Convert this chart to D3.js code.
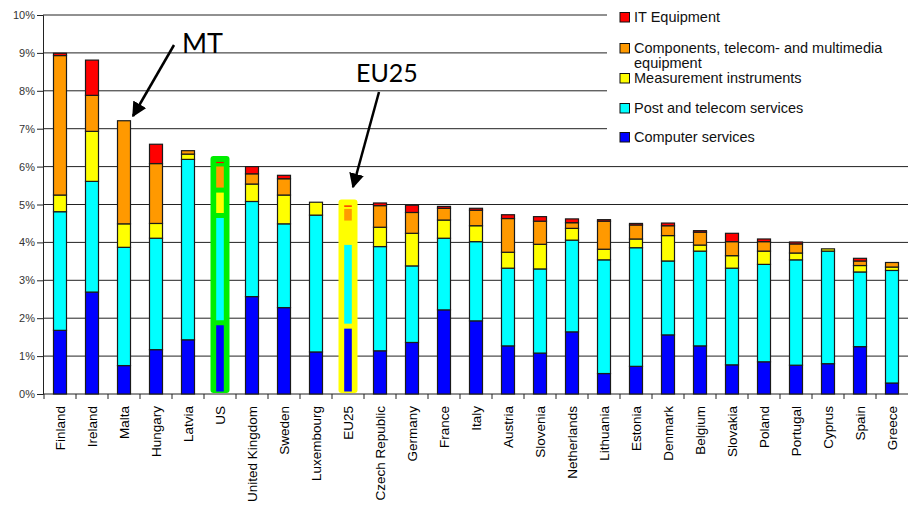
<!DOCTYPE html>
<html>
<head>
<meta charset="utf-8">
<title>ICT sector share</title>
<script src="https://cdn.jsdelivr.net/npm/d3@7"></script>
<style>
  body { margin: 0; background: #fff; }
  svg { display: block; }
  .ylab { font: 11px "Liberation Sans", Arial, sans-serif; fill: #333; }
  .xlab { font: 13.5px "Liberation Sans", Arial, sans-serif; fill: #000; }
  .leg { font: 14.5px "Liberation Sans", Arial, sans-serif; fill: #111; }
  .note { font-family: Lato, "Open Sans", sans-serif; fill: #000; }
</style>
</head>
<body>
<svg width="909" height="506"></svg>
<script>
// values in %
var categories = ["Finland", "Ireland", "Malta", "Hungary", "Latvia", "US", "United Kingdom", "Sweden",
  "Luxembourg", "EU25", "Czech Republic", "Germany", "France", "Italy", "Austria", "Slovenia",
  "Netherlands", "Lithuania", "Estonia", "Denmark", "Belgium", "Slovakia", "Poland", "Portugal",
  "Cyprus", "Spain", "Greece"];
var computerServices = [1.68, 2.69, 0.75, 1.17, 1.43, 1.88, 2.57, 2.28, 1.11, 1.79, 1.14, 1.36, 2.22, 1.93,
  1.27, 1.08, 1.64, 0.54, 0.73, 1.56, 1.27, 0.77, 0.85, 0.76, 0.80, 1.25, 0.29];
var postTelecom = [3.13, 2.92, 3.12, 2.94, 4.76, 2.83, 2.51, 2.21, 3.61, 2.21, 2.75, 2.02, 1.89, 2.09,
  2.05, 2.22, 2.42, 3.00, 3.13, 1.95, 2.50, 2.55, 2.57, 2.78, 2.97, 1.97, 2.97];
var measurement = [0.44, 1.32, 0.62, 0.39, 0.14, 0.67, 0.46, 0.76, 0.34, 0.51, 0.51, 0.86, 0.48, 0.42,
  0.42, 0.65, 0.31, 0.28, 0.23, 0.67, 0.16, 0.33, 0.35, 0.18, 0.06, 0.17, 0.09];
var components = [3.68, 0.95, 2.72, 1.58, 0.09, 0.69, 0.27, 0.43, 0, 0.44, 0.57, 0.55, 0.31, 0.41,
  0.89, 0.61, 0.15, 0.74, 0.37, 0.26, 0.34, 0.37, 0.25, 0.24, 0, 0.12, 0.12];
var itEquipment = [0.06, 0.93, 0, 0.51, 0, 0.08, 0.19, 0.09, 0, 0.05, 0.07, 0.19, 0.05, 0.05,
  0.10, 0.12, 0.10, 0.04, 0.04, 0.07, 0.04, 0.22, 0.07, 0.05, 0, 0.07, 0];
var seriesNames = ["Computer services", "Post and telecom services", "Measurement instruments",
  "Components, telecom- and multimedia equipment", "IT Equipment"];
var yTicks = [0, 1, 2, 3, 4, 5, 6, 7, 8, 9, 10];
var highlighted = ["US", "EU25"];

var colors = ["#0000ff", "#00ffff", "#ffff00", "#ff9900", "#ff0000"];
var hiColors = { "US": "#00ee00", "EU25": "#ffff00" };
var keys = ["s0", "s1", "s2", "s3", "s4"];

var rows = categories.map(function (c, i) {
  return { name: c, s0: computerServices[i], s1: postTelecom[i], s2: measurement[i],
           s3: components[i], s4: itEquipment[i] };
});
var stacked = d3.stack().keys(keys)(rows);

var svg = d3.select("svg");
var x = d3.scaleBand().domain(categories).range([44, 908]);
var y = d3.scaleLinear().domain([0, 10]).range([394, 15]);
var bw = 13;

// grid
svg.append("g").selectAll("line").data(yTicks.slice(1)).enter().append("line")
  .attr("x1", 43).attr("x2", 908)
  .attr("y1", function (d) { return y(d); }).attr("y2", function (d) { return y(d); })
  .attr("stroke", "#222").attr("stroke-width", 1);

// y axis
var ya = svg.append("g").attr("transform", "translate(43,0)")
  .call(d3.axisLeft(y).tickValues(yTicks).tickSize(6).tickPadding(2)
    .tickFormat(function (d) { return d + "%"; }));
ya.select(".domain").attr("stroke", "#222");
ya.selectAll(".tick line").attr("stroke", "#222");
ya.selectAll("text").attr("class", "ylab").attr("font-size", null).attr("font-family", null).attr("fill", null);

// x axis: tick marks at band edges, rotated labels
svg.append("line").attr("x1", 43).attr("x2", 908).attr("y1", 394).attr("y2", 394).attr("stroke", "#222");
svg.append("g").selectAll("line").data(categories).enter().append("line")
  .attr("x1", function (d) { return x(d); }).attr("x2", function (d) { return x(d); })
  .attr("y1", 394).attr("y2", 399).attr("stroke", "#222");
svg.append("g").selectAll("text").data(categories).enter().append("text")
  .attr("class", "xlab")
  .attr("transform", function (d) { return "translate(" + (x(d) + x.bandwidth() / 2 + 5) + ",406) rotate(-90)"; })
  .attr("text-anchor", "end")
  .text(function (d) { return d; });

// bars
var normal = svg.append("g");
stacked.forEach(function (layer, k) {
  normal.selectAll(null).data(layer.filter(function (d) {
      return highlighted.indexOf(d.data.name) < 0 && d[1] - d[0] > 0;
    })).enter().append("rect")
    .attr("x", function (d) { return x(d.data.name) + x.bandwidth() / 2 - bw / 2; })
    .attr("width", bw)
    .attr("y", function (d) { return y(d[1]); })
    .attr("height", function (d) { return y(d[0]) - y(d[1]); })
    .attr("fill", colors[k]).attr("stroke", "#1a1a1a").attr("stroke-width", 1.2);
});

// highlighted bars (US, EU25)
highlighted.forEach(function (name) {
  var i = categories.indexOf(name);
  var cx = x(name) + x.bandwidth() / 2;
  var total = stacked[4][i][1];
  svg.append("rect")
    .attr("x", cx - 9.5).attr("width", 19)
    .attr("y", y(total) - 5).attr("height", y(0) - y(total) + 4)
    .attr("rx", 3).attr("fill", hiColors[name]);
  stacked.forEach(function (layer, k) {
    var d = layer[i];
    if (d[1] - d[0] <= 0) return;
    var top = y(d[1]) + 2.5, bot = y(d[0]) - 2.5;
    if (bot - top < 1) { top = y(d[1]) + 1; bot = top + 1.2; }
    svg.append("rect")
      .attr("x", cx - 3.8).attr("width", 7.6)
      .attr("y", top).attr("height", bot - top)
      .attr("fill", colors[k]);
  });
});

// legend
svg.append("rect").attr("x", 607).attr("y", 0).attr("width", 302).attr("height", 150).attr("fill", "#fff");
var legRows = [
  { k: 4, y: 17, lines: ["IT Equipment"] },
  { k: 3, y: 48, lines: ["Components, telecom- and multimedia", "equipment"] },
  { k: 2, y: 78, lines: ["Measurement instruments"] },
  { k: 1, y: 108, lines: ["Post and telecom services"] },
  { k: 0, y: 137, lines: ["Computer services"] }
];
var leg = svg.append("g");
legRows.forEach(function (r) {
  leg.append("rect").attr("x", 620).attr("y", r.y - 4.5).attr("width", 9.5).attr("height", 9.5)
    .attr("fill", colors[r.k]).attr("stroke", "#111").attr("stroke-width", 1);
  r.lines.forEach(function (t, j) {
    leg.append("text").attr("class", "leg").attr("x", 634).attr("y", r.y + 5 + j * 14.5).text(t);
  });
});

// annotations
var defs = svg.append("defs");
defs.append("marker").attr("id", "ah").attr("viewBox", "0 0 10 10").attr("refX", 9).attr("refY", 5)
  .attr("markerWidth", 6).attr("markerHeight", 6).attr("orient", "auto")
  .append("path").attr("d", "M0,0L10,5L0,10z").attr("fill", "#000");

svg.append("text").attr("class", "note").attr("x", 182).attr("y", 53).attr("font-size", 27).text("MT");
svg.append("line").attr("x1", 174).attr("y1", 45).attr("x2", 133).attr("y2", 116)
  .attr("stroke", "#000").attr("stroke-width", 2.5).attr("marker-end", "url(#ah)");

svg.append("text").attr("class", "note").attr("x", 356).attr("y", 82).attr("font-size", 25).text("EU25");
svg.append("line").attr("x1", 379).attr("y1", 92).attr("x2", 353).attr("y2", 187)
  .attr("stroke", "#000").attr("stroke-width", 2.5).attr("marker-end", "url(#ah)");
</script>
</body>
</html>
